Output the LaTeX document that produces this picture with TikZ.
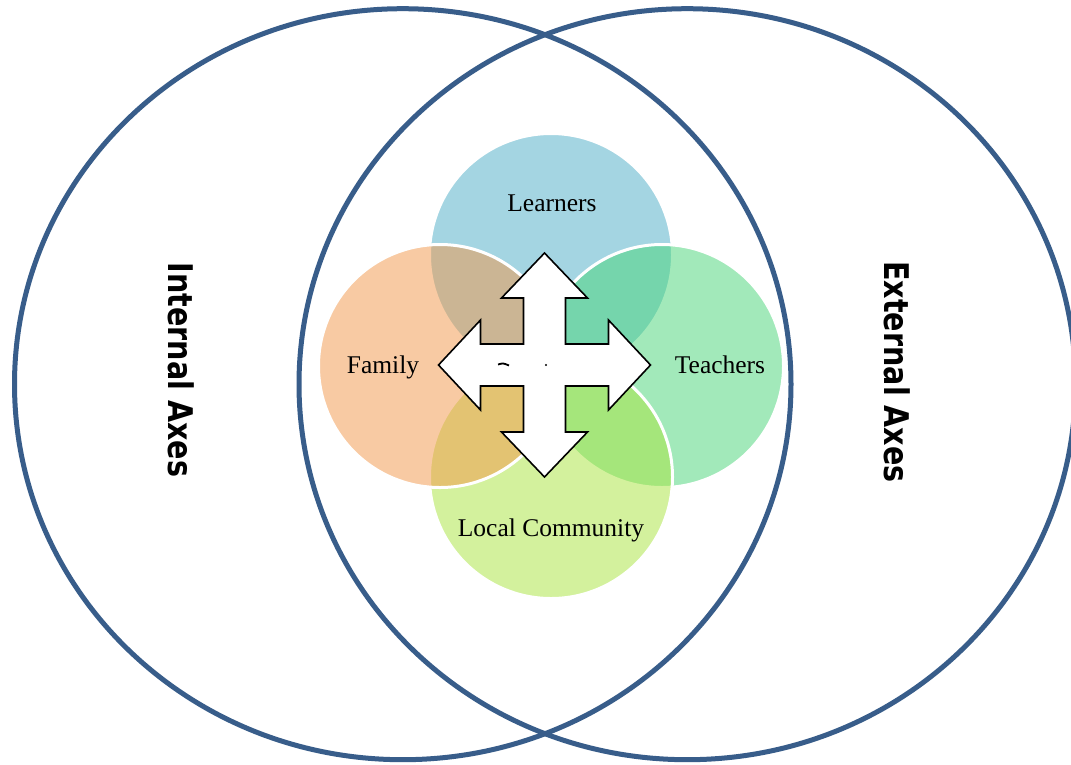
\documentclass[tikz,border=0pt]{standalone}
\usepackage{fontspec}
\usetikzlibrary{calc}
\newfontfamily\axisfont{DejaVu Sans}
\newfontfamily\petalfont{Liberation Serif}
\definecolor{axisblue}{RGB}{56,93,138}
\definecolor{clearn}{RGB}{75,172,198}
\definecolor{cteach}{RGB}{71,213,119}
\definecolor{ccomm}{RGB}{169,229,61}
\definecolor{cfam}{RGB}{243,151,72}
\begin{document}
\begin{tikzpicture}[x=1pt,y=-1pt,
  bigring/.style={draw=axisblue,line width=5pt},
  petal/.style={fill opacity=0.5,draw=white,line width=3pt,draw opacity=1},
  petaltext/.style={anchor=base,inner sep=0pt,font=\petalfont\fontsize{25.5}{28}\selectfont},
  axistext/.style={rotate=-90,inner sep=0pt,font=\axisfont\bfseries\fontsize{34}{38}\selectfont},
  crossarrow/.style={draw=black,fill=white,line width=1.6pt,line join=miter}]
\useasboundingbox (0,0) rectangle (1071,764);
\clip (0,0) rectangle (1071,764);
\fill[white] (0,0) rectangle (1071,764);
% big rings
\draw[bigring] (402.75,384.2) ellipse [x radius=388.25pt, y radius=375.5pt];
\draw[bigring] (687.25,384.2) ellipse [x radius=388.25pt, y radius=375.5pt];
% petals
\path[petal,fill=clearn] (551,255) circle [radius=121.5pt];
\path[petal,fill=cteach] (662,366) circle [radius=121.5pt];
\path[petal,fill=ccomm] (551,477) circle [radius=121.5pt];
\path[petal,fill=cfam] (440,366) circle [radius=121.5pt];
% quad arrow
\coordinate (c) at (544.5,365);
\draw[crossarrow] ($(c)+(0,-112)$) -- ++(43,45) -- ++(-22,0) -- ++(0,46) -- ++(43,0) -- ++(0,-24)
  -- ++(42,45) -- ++(-42,45) -- ++(0,-24) -- ++(-43,0) -- ++(0,46) -- ++(22,0)
  -- ++(-43,45) -- ++(-43,-45) -- ++(22,0) -- ++(0,-46) -- ++(-43,0) -- ++(0,24)
  -- ++(-42,-45) -- ++(42,-45) -- ++(0,24) -- ++(43,0) -- ++(0,-46) -- ++(-22,0) -- cycle;
% hidden label fragments
\draw[line width=1.8pt] (498,364.5) .. controls (503,363) .. (509,365.5);
\fill (546,365) circle [radius=1.1pt];
% labels
\node[petaltext] (learners) at (552,211) {Learners};
\node[petaltext] (family) at (383,373) {Family};
\node[petaltext] (teachers) at (720,373) {Teachers};
\node[petaltext] (community) at (551,536) {Local Community};
\node[axistext] (internal) at (181,370) {\scalebox{0.84}[1]{Internal Axes}};
\node[axistext] (external) at (897,372) {\scalebox{0.84}[1]{External Axes}};
\end{tikzpicture}
\end{document}
